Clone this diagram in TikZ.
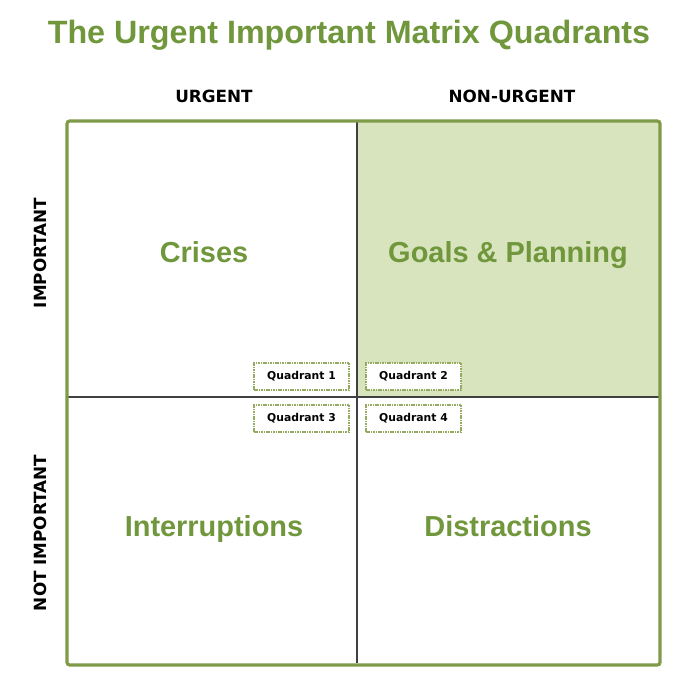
\documentclass[tikz,border=0pt]{standalone}
\usepackage{fontspec}
\setmainfont{Liberation Sans}
\newfontfamily\vfont{DejaVu Sans}
\usetikzlibrary{calc}
\definecolor{dgreen}{HTML}{70973C}
\definecolor{fgreen}{HTML}{7F9A48}
\definecolor{bgreen}{HTML}{93AA60}
\definecolor{lgreen}{HTML}{D7E4BD}
\definecolor{divgray}{HTML}{404040}
\begin{document}
\begin{tikzpicture}[x=0.75pt,y=-0.75pt,
  big/.style={font=\fontsize{24.2}{28}\selectfont\bfseries, text=dgreen, inner sep=0pt, anchor=base},
  quad/.style={font=\fontsize{21.7}{26}\selectfont\bfseries, text=dgreen, inner sep=0pt, anchor=base},
  axis/.style={font=\vfont\fontsize{12.6}{15}\selectfont\bfseries, inner sep=0pt},
  qbox/.style={draw=bgreen, dash pattern=on 1.2pt off 0.6pt, line width=0.9pt, fill=white, minimum width=95*0.75pt, minimum height=27*0.75pt, inner sep=0pt, font=\vfont\fontsize{8.1}{9}\selectfont\bfseries}]
\useasboundingbox (0,0) rectangle (698,690);
% fill top-right
\fill[lgreen] (357,122) rectangle (659,397);
% dividers
\draw[divgray, line width=1.2pt] (357,122) -- (357,663);
\draw[divgray, line width=1.2pt] (68,397) -- (659,397);
% frame
\draw[fgreen, line width=2.4pt, rounded corners=2pt] (67,121) rectangle (660,665);
% title
\node[big] (title) at (349,43.5) {The Urgent Important Matrix Quadrants};
% axis labels
\node[axis, anchor=base] (urg) at (214,102) {URGENT};
\node[axis, anchor=base] (nurg) at (512,102) {NON-URGENT};
\node[axis, rotate=90] (imp) at (40,253) {IMPORTANT};
\node[axis, rotate=90] (nimp) at (40,533) {NOT IMPORTANT};
% quadrant names
\node[quad] (q1t) at (204,262) {Crises};
\node[quad] (q2t) at (508,262) {Goals \& Planning};
\node[quad] (q3t) at (214,536) {Interruptions};
\node[quad] (q4t) at (508,536) {Distractions};
% quadrant boxes
\node[qbox] (b1) at (301.5,376.5) {Quadrant 1};
\node[qbox] (b2) at (413.5,376.5) {Quadrant 2};
\node[qbox] (b3) at (301.5,418.5) {Quadrant 3};
\node[qbox] (b4) at (413.5,418.5) {Quadrant 4};
\end{tikzpicture}
\end{document}
